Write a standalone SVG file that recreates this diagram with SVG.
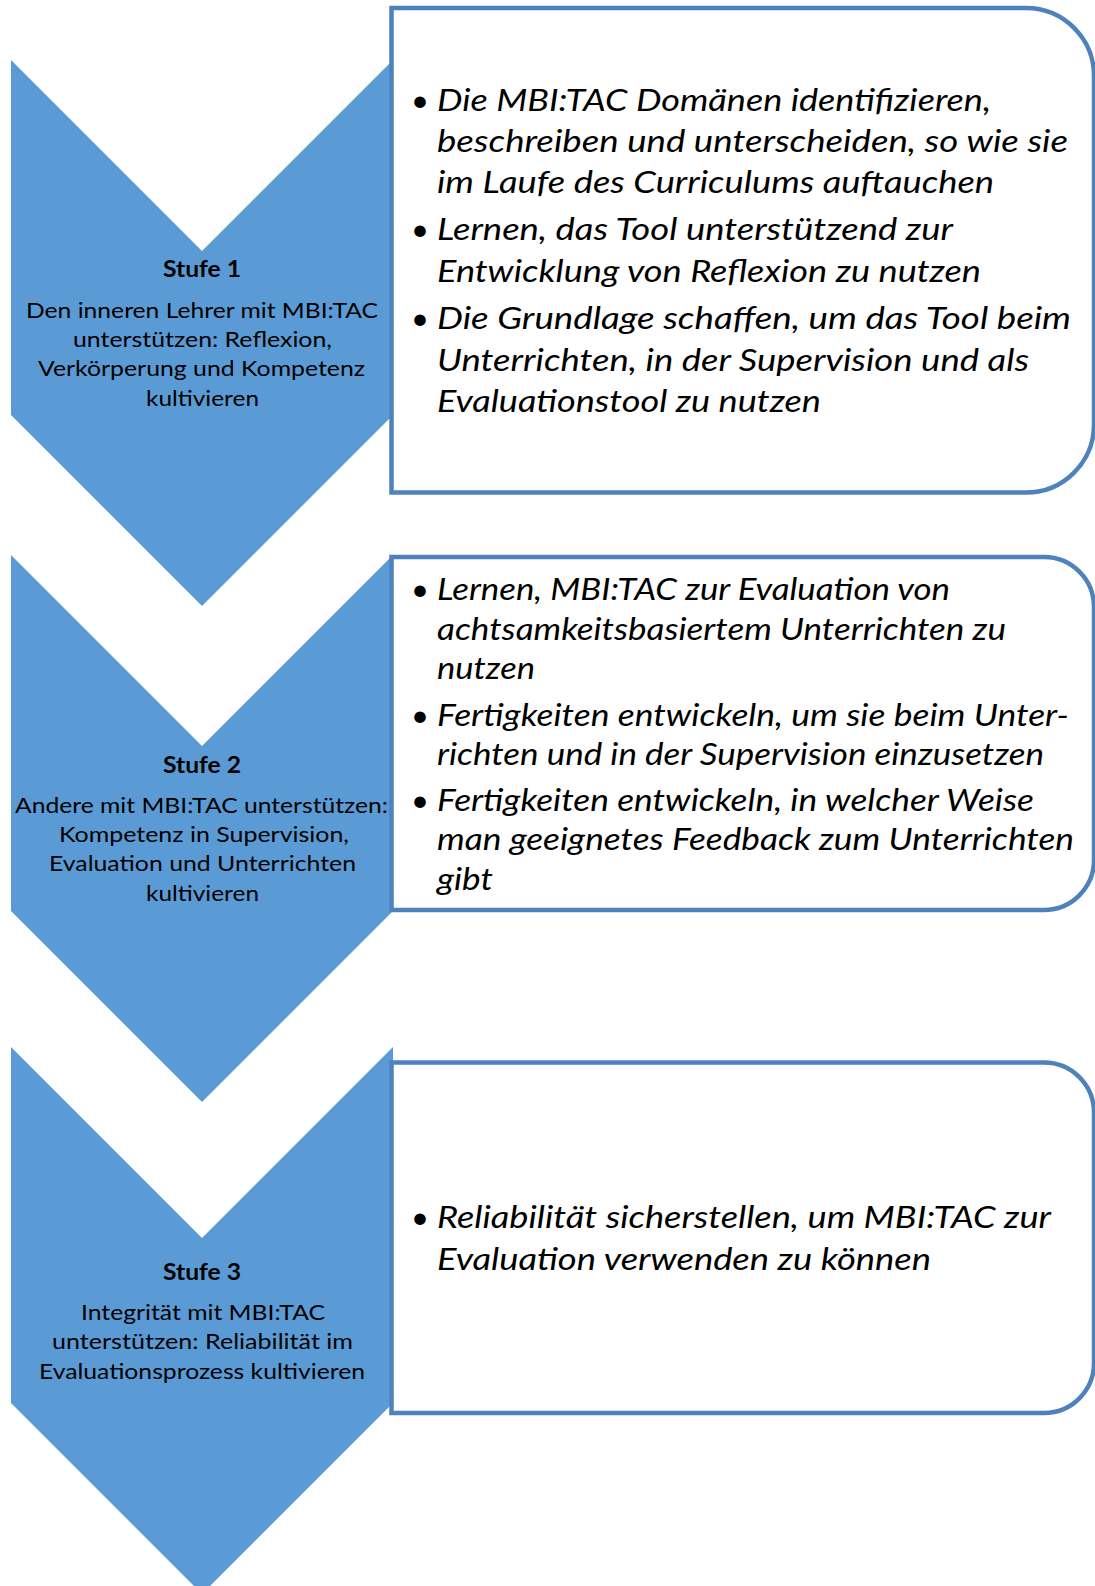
<svg xmlns="http://www.w3.org/2000/svg" width="1095" height="1586" viewBox="0 0 1095 1586">
<style>
.chev{fill:#5B9BD5;}
.box{fill:#FFFFFF;stroke:#4F81BD;stroke-width:4.5;}
.ct{font-family:Lato,"Liberation Sans",sans-serif;font-size:22px;fill:#000;}
.cb{font-family:Lato,"Liberation Sans",sans-serif;font-size:22px;font-weight:bold;fill:#000;}
.bt{font-family:Lato,"Liberation Sans",sans-serif;font-size:31px;font-style:italic;fill:#000;}
.bu{font-family:Lato,"Liberation Sans",sans-serif;font-size:31px;fill:#000;}
</style>
<rect width="1095" height="1586" fill="#FFFFFF"/>
<g id="stufe1">
<path class="chev" d="M11,60 L202,251 L393,60 L393,415 L202,606 L11,415 Z"/>
<text class="cb" x="163" y="277" textLength="78" lengthAdjust="spacingAndGlyphs">Stufe 1</text>
<text class="ct" x="26" y="318" textLength="352" lengthAdjust="spacingAndGlyphs">Den inneren Lehrer mit MBI:TAC</text>
<text class="ct" x="73" y="347" textLength="259" lengthAdjust="spacingAndGlyphs">unterstützen: Reflexion,</text>
<text class="ct" x="38" y="376" textLength="327" lengthAdjust="spacingAndGlyphs">Verkörperung und Kompetenz</text>
<text class="ct" x="146" y="406" textLength="113" lengthAdjust="spacingAndGlyphs">kultivieren</text>
</g>
<g id="box1">
<path class="box" d="M391.5,8 H1026 A68,68 0 0 1 1094,76 V424.5 A68,68 0 0 1 1026,492.5 H391.5 Z"/>
<text class="bu" x="411" y="111">•</text>
<text class="bt" x="437" y="111" textLength="554" lengthAdjust="spacingAndGlyphs">Die MBI:TAC Domänen identifizieren,</text>
<text class="bt" x="437" y="152" textLength="631" lengthAdjust="spacingAndGlyphs">beschreiben und unterscheiden, so wie sie</text>
<text class="bt" x="437" y="193" textLength="557" lengthAdjust="spacingAndGlyphs">im Laufe des Curriculums auftauchen</text>
<text class="bu" x="411" y="240">•</text>
<text class="bt" x="437" y="240" textLength="516" lengthAdjust="spacingAndGlyphs">Lernen, das Tool unterstützend zur</text>
<text class="bt" x="437" y="282" textLength="544" lengthAdjust="spacingAndGlyphs">Entwicklung von Reflexion zu nutzen</text>
<text class="bu" x="411" y="329">•</text>
<text class="bt" x="437" y="329" textLength="634" lengthAdjust="spacingAndGlyphs">Die Grundlage schaffen, um das Tool beim</text>
<text class="bt" x="437" y="371" textLength="592" lengthAdjust="spacingAndGlyphs">Unterrichten, in der Supervision und als</text>
<text class="bt" x="437" y="412" textLength="384" lengthAdjust="spacingAndGlyphs">Evaluationstool zu nutzen</text>
</g>
<g id="stufe2">
<path class="chev" d="M11,555 L202,746 L393,555 L393,911 L202,1102 L11,911 Z"/>
<text class="cb" x="163" y="773" textLength="78" lengthAdjust="spacingAndGlyphs">Stufe 2</text>
<text class="ct" x="15" y="813" textLength="373" lengthAdjust="spacingAndGlyphs">Andere mit MBI:TAC unterstützen:</text>
<text class="ct" x="59" y="842" textLength="290" lengthAdjust="spacingAndGlyphs">Kompetenz in Supervision,</text>
<text class="ct" x="49" y="871" textLength="307" lengthAdjust="spacingAndGlyphs">Evaluation und Unterrichten</text>
<text class="ct" x="146" y="901" textLength="113" lengthAdjust="spacingAndGlyphs">kultivieren</text>
</g>
<g id="box2">
<path class="box" d="M391.5,557 H1044 A50,50 0 0 1 1094,607 V860 A50,50 0 0 1 1044,910 H391.5 Z"/>
<text class="bu" x="411" y="600">•</text>
<text class="bt" x="437" y="600" textLength="513" lengthAdjust="spacingAndGlyphs">Lernen, MBI:TAC zur Evaluation von</text>
<text class="bt" x="437" y="640" textLength="569" lengthAdjust="spacingAndGlyphs">achtsamkeitsbasiertem Unterrichten zu</text>
<text class="bt" x="437" y="679" textLength="98" lengthAdjust="spacingAndGlyphs">nutzen</text>
<text class="bu" x="411" y="726">•</text>
<text class="bt" x="437" y="726" textLength="632" lengthAdjust="spacingAndGlyphs">Fertigkeiten entwickeln, um sie beim Unter-</text>
<text class="bt" x="437" y="765" textLength="607" lengthAdjust="spacingAndGlyphs">richten und in der Supervision einzusetzen</text>
<text class="bu" x="411" y="811">•</text>
<text class="bt" x="437" y="811" textLength="597" lengthAdjust="spacingAndGlyphs">Fertigkeiten entwickeln, in welcher Weise</text>
<text class="bt" x="437" y="850" textLength="637" lengthAdjust="spacingAndGlyphs">man geeignetes Feedback zum Unterrichten</text>
<text class="bt" x="437" y="890" textLength="56" lengthAdjust="spacingAndGlyphs">gibt</text>
</g>
<g id="stufe3">
<path class="chev" d="M11,1047 L202,1238 L393,1047 L393,1403 L202,1594 L11,1403 Z"/>
<text class="cb" x="163" y="1280" textLength="78" lengthAdjust="spacingAndGlyphs">Stufe 3</text>
<text class="ct" x="81" y="1320" textLength="244" lengthAdjust="spacingAndGlyphs">Integrität mit MBI:TAC</text>
<text class="ct" x="52" y="1349" textLength="301" lengthAdjust="spacingAndGlyphs">unterstützen: Reliabilität im</text>
<text class="ct" x="39" y="1379" textLength="326" lengthAdjust="spacingAndGlyphs">Evaluationsprozess kultivieren</text>
</g>
<g id="box3">
<path class="box" d="M391.5,1062.5 H1044 A50,50 0 0 1 1094,1112.5 V1363 A50,50 0 0 1 1044,1413 H391.5 Z"/>
<text class="bu" x="411" y="1228">•</text>
<text class="bt" x="437" y="1228" textLength="614" lengthAdjust="spacingAndGlyphs">Reliabilität sicherstellen, um MBI:TAC zur</text>
<text class="bt" x="437" y="1270" textLength="494" lengthAdjust="spacingAndGlyphs">Evaluation verwenden zu können</text>
</g>
<g id="connectors"></g>
</svg>
